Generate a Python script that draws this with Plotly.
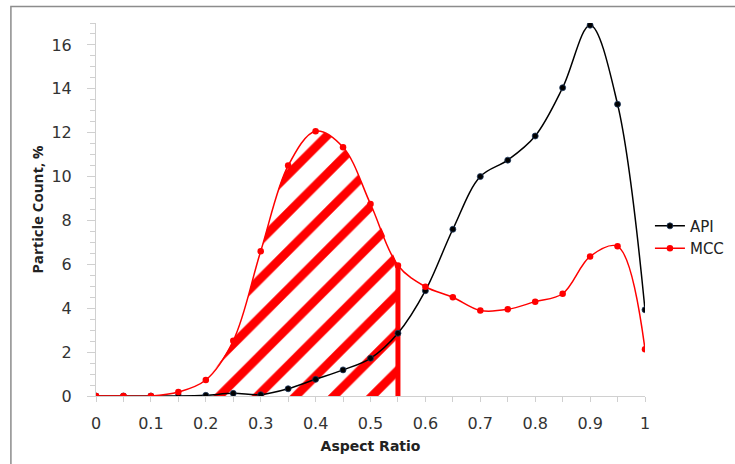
import plotly.graph_objects as go

aspect_ratio = [0, 0.05, 0.1, 0.15, 0.2, 0.25, 0.3, 0.35, 0.4, 0.45, 0.5,
                0.55, 0.6, 0.65, 0.7, 0.75, 0.8, 0.85, 0.9, 0.95, 1.0]
api = [0, 0, 0, 0, 0.03, 0.12, 0.06, 0.33, 0.76, 1.19, 1.72,
       2.86, 4.8, 7.6, 10.0, 10.75, 11.85, 14.05, 16.9, 13.3, 3.93]
mcc = [0, 0, 0, 0.18, 0.73, 2.52, 6.6, 10.5, 12.07, 11.34, 8.75,
       5.95, 4.98, 4.5, 3.9, 3.95, 4.3, 4.66, 6.36, 6.82, 2.13]

hatch_start = 0.2
hatch_end = 0.55

RED = "#ff0000"
BLACK = "#000000"
FONT = "DejaVu Sans"

hx = [x for x in aspect_ratio if hatch_start <= x <= hatch_end]
hy = [y for x, y in zip(aspect_ratio, mcc) if hatch_start <= x <= hatch_end]

fig = go.Figure()

fig.add_trace(go.Scatter(
    x=hx, y=hy, mode="none", fill="tozeroy",
    line=dict(shape="spline", smoothing=1),
    fillcolor="rgba(0,0,0,0)",
    fillpattern=dict(shape="/", fgcolor=RED, bgcolor="rgba(0,0,0,0)",
                     size=27, solidity=0.32, fillmode="replace"),
    showlegend=False, hoverinfo="skip"))

fig.add_trace(go.Scatter(
    x=[hatch_end, hatch_end], y=[0, hy[-1]], mode="lines",
    line=dict(color=RED, width=5), showlegend=False, hoverinfo="skip"))

fig.add_trace(go.Scatter(
    x=aspect_ratio, y=api, name="API", mode="lines+markers",
    line=dict(color=BLACK, width=1.5, shape="spline", smoothing=1),
    marker=dict(color=BLACK, size=6, line=dict(color="#1f3a5f", width=0.8))))

fig.add_trace(go.Scatter(
    x=aspect_ratio, y=mcc, name="MCC", mode="lines+markers",
    line=dict(color=RED, width=1.5, shape="spline", smoothing=1),
    marker=dict(color=RED, size=6.5)))

fig.update_layout(
    width=735, height=464,
    margin=dict(l=96, r=90, t=23, b=68, autoexpand=False),
    paper_bgcolor="white", plot_bgcolor="white",
    font=dict(family=FONT, color="#333333", size=14),
    legend=dict(x=1.009, y=0.426, xanchor="left", yanchor="middle",
                font=dict(family=FONT, size=15, color="#222222"), itemwidth=30,
                tracegroupgap=0, bgcolor="rgba(0,0,0,0)", borderwidth=0),
    shapes=[dict(type="rect", xref="paper", yref="paper",
                 x0=-0.155, x1=1.2, y0=-0.25, y1=1.044,
                 line=dict(color="#8c8c8c", width=1.5), layer="below")],
)

fig.update_xaxes(
    range=[0, 1], dtick=0.1, tick0=0, showgrid=False, zeroline=False,
    showline=True, linecolor="#d0d0d0", linewidth=1,
    ticks="outside", ticklen=5, tickcolor="#d0d0d0",
    minor=dict(dtick=0.05, ticks="outside", ticklen=5, tickcolor="#d0d0d0"),
    tickfont=dict(family=FONT, size=16, color="#333333"),
    ticklabelstandoff=8, automargin=False,
    title=dict(text="<b>Aspect Ratio</b>", font=dict(family=FONT, size=14, color="#222222"), standoff=8),
    fixedrange=True)

fig.update_yaxes(
    range=[0, 17], dtick=2, tick0=0, showgrid=False, zeroline=False,
    showline=True, linecolor="#d0d0d0", linewidth=1,
    ticks="outside", ticklen=8, tickcolor="#d0d0d0",
    minor=dict(dtick=0.5, ticks="outside", ticklen=5, tickcolor="#d0d0d0"),
    tickfont=dict(family=FONT, size=16, color="#333333"),
    ticklabelstandoff=12, automargin=False,
    title=dict(text="<b>Particle Count, %</b>", font=dict(family="Open Sans", size=15, color="#222222"), standoff=4),
    fixedrange=True)

fig.write_html("out.html")
